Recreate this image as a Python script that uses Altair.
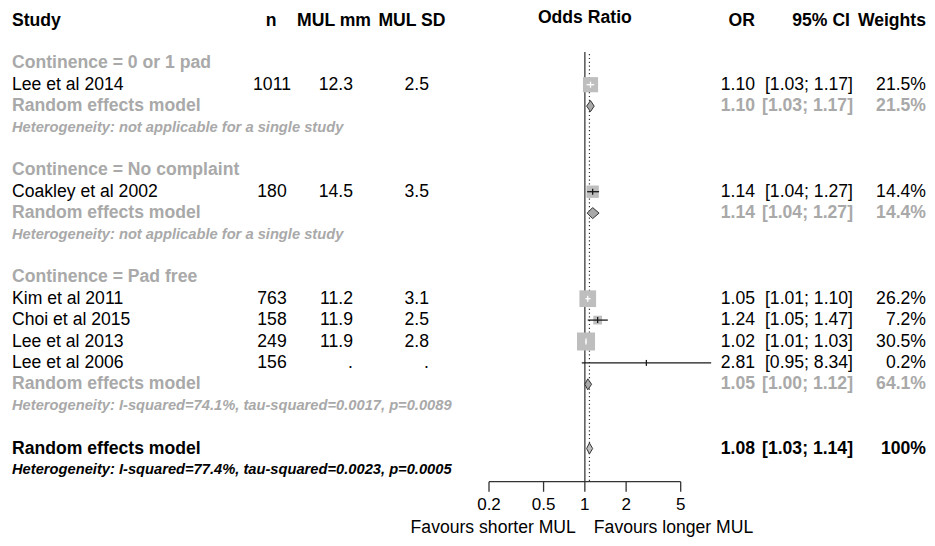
import altair as alt
import pandas as pd
import numpy as np

# ---------------- data ----------------
group_labels = ["Continence = 0 or 1 pad", "Continence = No complaint", "Continence = Pad free"]
study = ["Lee et al 2014", "Coakley et al 2002", "Kim et al 2011", "Choi et al 2015", "Lee et al 2013", "Lee et al 2006"]
study_group = [0, 1, 2, 2, 2, 2]
n_pat = [1011, 180, 763, 158, 249, 156]
mul_mm = ["12.3", "14.5", "11.2", "11.9", "11.9", "."]
mul_sd = ["2.5", "3.5", "3.1", "2.5", "2.8", "."]
odds = [1.10, 1.14, 1.05, 1.24, 1.02, 2.81]
ci_lo = [1.03, 1.04, 1.01, 1.05, 1.01, 0.95]
ci_hi = [1.17, 1.27, 1.10, 1.47, 1.03, 8.34]
weight = [21.5, 14.4, 26.2, 7.2, 30.5, 0.2]

sub_or = [1.10, 1.14, 1.05]
sub_lo = [1.03, 1.04, 1.00]
sub_hi = [1.17, 1.27, 1.12]
sub_w = [21.5, 14.4, 64.1]
sub_het = ["Heterogeneity: not applicable for a single study",
           "Heterogeneity: not applicable for a single study",
           "Heterogeneity: I-squared=74.1%, tau-squared=0.0017, p=0.0089"]

all_or, all_lo, all_hi, all_w = 1.08, 1.03, 1.14, 100
all_het = "Heterogeneity: I-squared=77.4%, tau-squared=0.0023, p=0.0005"

headers = ["Study", "n", "MUL mm", "MUL SD", "OR", "95% CI", "Weights"]
axis_ticks = [0.2, 0.5, 1, 2, 5]
favours = ["Favours shorter MUL", "Favours longer MUL"]

# ---------------- style ----------------
FONT = "Liberation Sans"
GRAY = "#a9a9a9"
FS = 17.6
FS_HET = 14.7
PX_PER_DEC = 137.1
ROW0 = 55.3
ROWH = 21.4
W, H = 919, 530

yscale = alt.Scale(domain=[0, 19], range=[ROW0, ROW0 + 19 * ROWH], nice=False, zero=False)
xscale = alt.Scale(type="log", domain=[0.2, 5], range=[481, 672.7], nice=False, zero=False)

cols = {
    "study": (4, "left"), "n": (264, "center"), "mm": (345, "right"), "sd": (421, "right"),
    "or": (747, "right"), "ci": (845, "right"), "w": (918, "right"),
    "n_h": (263, "center"), "mm_h": (326, "center"), "sd_h": (404, "center"), "ci_h": (842, "right"),
}
kinds = {
    "normal": dict(fontSize=FS, fontWeight="normal", fontStyle="normal"),
    "bold": dict(fontSize=FS, fontWeight="bold", fontStyle="normal"),
    "het": dict(fontSize=FS_HET, fontWeight="bold", fontStyle="italic"),
}

records = []
def add(row, col, text, color, kind):
    records.append(dict(row=row, col=col, text=text, color=color, kind=kind))

for c, h in zip(["study", "n_h", "mm_h", "sd_h", "or", "ci_h", "w"], headers):
    add(-2, c, h, "black", "bold")

sq_rows, sub_rows = [], []
row = 0
for g, label in enumerate(group_labels):
    add(row, "study", label, GRAY, "bold"); row += 1
    for i in range(len(study)):
        if study_group[i] != g:
            continue
        add(row, "study", study[i], "black", "normal")
        add(row, "n", str(n_pat[i]), "black", "normal")
        add(row, "mm", mul_mm[i], "black", "normal")
        add(row, "sd", mul_sd[i], "black", "normal")
        add(row, "or", f"{odds[i]:.2f}", "black", "normal")
        add(row, "ci", f"[{ci_lo[i]:.2f}; {ci_hi[i]:.2f}]", "black", "normal")
        add(row, "w", f"{weight[i]:.1f}%", "black", "normal")
        sq_rows.append(row); row += 1
    add(row, "study", "Random effects model", GRAY, "bold")
    add(row, "or", f"{sub_or[g]:.2f}", GRAY, "bold")
    add(row, "ci", f"[{sub_lo[g]:.2f}; {sub_hi[g]:.2f}]", GRAY, "bold")
    add(row, "w", f"{sub_w[g]:.1f}%", GRAY, "bold")
    sub_rows.append(row); row += 1
    add(row, "study", sub_het[g], GRAY, "het"); row += 1
    row += 1
all_row = row
add(all_row, "study", "Random effects model", "black", "bold")
add(all_row, "or", f"{all_or:.2f}", "black", "bold")
add(all_row, "ci", f"[{all_lo:.2f}; {all_hi:.2f}]", "black", "bold")
add(all_row, "w", f"{all_w:g}%", "black", "bold")
add(all_row + 1, "study", all_het, "black", "het")

tdf = pd.DataFrame(records)

layers = []
for col, (px, align) in cols.items():
    for kind, kw in kinds.items():
        sub = tdf[(tdf.col == col) & (tdf.kind == kind)]
        if len(sub) == 0:
            continue
        layers.append(
            alt.Chart(sub).mark_text(align=align, baseline="middle", font=FONT, **kw).encode(
                x=alt.value(px),
                y=alt.Y("row:Q", scale=yscale, axis=None),
                text="text:N",
                color=alt.Color("color:N", scale=None),
            )
        )

# Odds Ratio header centered on the null line
hdr = pd.DataFrame({"x": [1], "row": [-2.1], "text": ["Odds Ratio"]})
layers.append(alt.Chart(hdr).mark_text(align="center", baseline="middle", font=FONT, fontSize=FS,
                                       fontWeight="bold", color="black").encode(
    x=alt.X("x:Q", scale=xscale, axis=None), y=alt.Y("row:Q", scale=yscale, axis=None), text="text:N"))

X = lambda f: alt.X(f, scale=xscale, axis=None)
Y = lambda f: alt.Y(f, scale=yscale, axis=None, stack=None)

axis_row = 19.55
top_row = -0.53

# reference lines
ref = pd.DataFrame({"x": [1], "y": [top_row], "y2": [axis_row]})
layers.append(alt.Chart(ref).mark_rule(color="#555555", strokeWidth=1.5).encode(x=X("x:Q"), y=Y("y:Q"), y2="y2:Q"))
ref2 = pd.DataFrame({"x": [all_or], "y": [top_row + 0.1], "y2": [axis_row]})
layers.append(alt.Chart(ref2).mark_rule(color="#333333", strokeWidth=1.2, strokeDash=[1.2, 2.6]).encode(
    x=X("x:Q"), y=Y("y:Q"), y2="y2:Q"))

# study squares and CIs
sdf = pd.DataFrame({"row": sq_rows, "or": odds, "lo": ci_lo, "hi": ci_hi, "w": weight})
half = np.sqrt(10.63 * sdf.w) / 2
inside = ((np.log10(sdf["or"]) - np.log10(sdf.lo)) * PX_PER_DEC < half) & \
         ((np.log10(sdf.hi) - np.log10(sdf["or"])) * PX_PER_DEC < half)
sdf["cicol"] = np.where(inside, "white", "#1a1a1a")
sdf["t1"] = sdf.row - 0.14
sdf["t2"] = sdf.row + 0.14
layers.append(alt.Chart(sdf).mark_square(color="#bebebe", opacity=1).encode(
    x=X("or:Q"), y=Y("row:Q"),
    size=alt.Size("w:Q", scale=alt.Scale(domain=[0, 100], range=[0, 1063]), legend=None)))
layers.append(alt.Chart(sdf).mark_rule(strokeWidth=1.3).encode(
    x=X("lo:Q"), x2="hi:Q", y=Y("row:Q"), color=alt.Color("cicol:N", scale=None)))
layers.append(alt.Chart(sdf).mark_rule(strokeWidth=1.3).encode(
    x=X("or:Q"), y=Y("t1:Q"), y2="t2:Q", color=alt.Color("cicol:N", scale=None)))

# diamonds: closed polygons (left, top, right, bottom)
dh = 5.5 / ROWH
drows = []
for k, (r, e, l, h_) in enumerate(zip(sub_rows + [all_row], sub_or + [all_or], sub_lo + [all_lo], sub_hi + [all_hi])):
    fill = GRAY if k < len(sub_rows) else "#bebebe"
    for j, (xv, yv) in enumerate([(l, r), (e, r - dh), (h_, r), (e, r + dh)]):
        drows.append(dict(id=k, j=j, x=xv, y=yv, fill=fill))
ddf = pd.DataFrame(drows)
layers.append(alt.Chart(ddf).mark_line(interpolate="linear-closed", stroke="#333333", strokeWidth=1).encode(
    x=X("x:Q"), y=Y("y:Q"), fill=alt.Fill("fill:N", scale=None), detail="id:N",
    order=alt.Order("j:Q")))

# manual x axis
adf = pd.DataFrame({"x": [axis_ticks[0]], "x2": [axis_ticks[-1]], "y": [axis_row]})
layers.append(alt.Chart(adf).mark_rule(color="#333333", strokeWidth=1.3).encode(x=X("x:Q"), x2="x2:Q", y=Y("y:Q")))
tk = pd.DataFrame({"x": axis_ticks, "y": [axis_row] * len(axis_ticks), "y2": [axis_row + 0.47] * len(axis_ticks),
                   "lab": [f"{v:g}" for v in axis_ticks], "ly": [20.64] * len(axis_ticks)})
layers.append(alt.Chart(tk).mark_rule(color="#333333", strokeWidth=1.3).encode(x=X("x:Q"), y=Y("y:Q"), y2="y2:Q"))
layers.append(alt.Chart(tk).mark_text(font=FONT, fontSize=17, baseline="middle", align="center", color="black").encode(
    x=X("x:Q"), y=Y("ly:Q"), text="lab:N"))
fav = pd.DataFrame({"x": [1, 1], "y": [21.72, 21.72], "text": favours})
layers.append(alt.Chart(fav.iloc[[0]]).mark_text(font=FONT, fontSize=FS, baseline="middle", align="right", dx=-9,
                                                 color="black").encode(x=X("x:Q"), y=Y("y:Q"), text="text:N"))
layers.append(alt.Chart(fav.iloc[[1]]).mark_text(font=FONT, fontSize=FS, baseline="middle", align="left", dx=9,
                                                 color="black").encode(x=X("x:Q"), y=Y("y:Q"), text="text:N"))

chart = alt.layer(*layers).properties(
    width=W, height=H, padding=0, autosize=alt.AutoSizeParams(type="none")
).configure_view(stroke=None)

chart.save("out.html", embed_options={"renderer": "svg", "actions": False})
